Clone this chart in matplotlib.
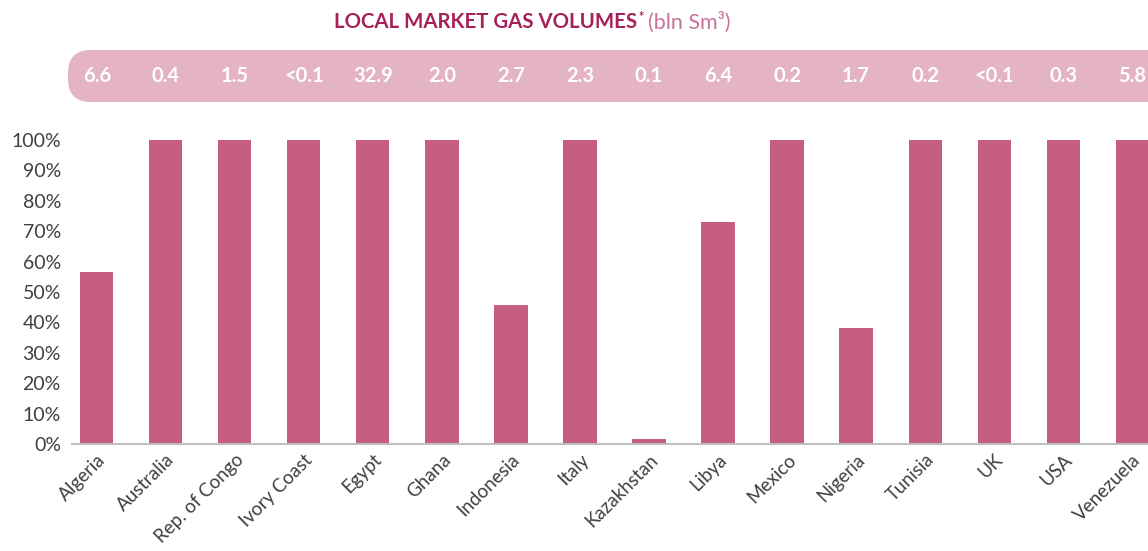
import matplotlib
matplotlib.use("Agg")
import matplotlib.pyplot as plt
from matplotlib.patches import FancyBboxPatch
from matplotlib.ticker import PercentFormatter
import matplotlib.transforms as mtransforms

countries = ["Algeria", "Australia", "Rep. of Congo", "Ivory Coast", "Egypt", "Ghana",
             "Indonesia", "Italy", "Kazakhstan", "Libya", "Mexico", "Nigeria",
             "Tunisia", "UK", "USA", "Venezuela"]
share = [0.566, 1.0, 1.0, 1.0, 1.0, 1.0, 0.457, 1.0, 0.016, 0.73, 1.0, 0.38,
         1.0, 1.0, 1.0, 1.0]
volumes = ["6.6", "0.4", "1.5", "<0.1", "32.9", "2.0", "2.7", "2.3", "0.1", "6.4",
           "0.2", "1.7", "0.2", "<0.1", "0.3", "5.8"]

bar_col = "#C55E80"
band_col = "#E4B3C4"
font = ["Lato", "DejaVu Sans"]
plt.rcParams["font.family"] = font

W, H = 1148, 551
fig = plt.figure(figsize=(W / 100, H / 100), dpi=100)
ax = fig.add_axes([72 / W, (H - 444) / H, (W - 72) / W, 304 / H])

x = list(range(len(countries)))
ax.bar(x, share, width=0.48, color=bar_col, zorder=2, clip_on=False)
ax.set_xlim(-0.36, 15.23)
ax.set_ylim(0, 1)
ax.yaxis.set_major_formatter(PercentFormatter(1.0, decimals=0))
ax.set_yticks([i / 10 for i in range(11)])
ax.set_xticks(x)
ax.set_xticklabels(countries, rotation=45, ha="right", rotation_mode="anchor")
for s in ["top", "right", "left"]:
    ax.spines[s].set_visible(False)
ax.spines["bottom"].set_color("#BFBFBF")
ax.spines["bottom"].set_linewidth(1.5)
ax.tick_params(axis="both", length=0, labelsize=14, colors="#404040")
ax.tick_params(axis="y", pad=8)
ax.tick_params(axis="x", labelsize=13.5, pad=5)

# pink band with volumes
band = FancyBboxPatch((68 / W, (H - 102) / H), (W + 40 - 68) / W, 52 / H,
                      boxstyle="round,pad=0,rounding_size=0.02",
                      mutation_aspect=W / H,
                      transform=fig.transFigure, facecolor=band_col,
                      edgecolor="none", clip_on=False, zorder=-1)
fig.patches.append(band)
trans = mtransforms.blended_transform_factory(ax.transData, fig.transFigure)
for xi, v in zip(x, volumes):
    t = fig.text(0, 0, v, transform=trans, ha="center", va="center",
                 color="white", fontsize=14.5, fontweight="bold", zorder=5)
    t.set_position((xi, (H - 76) / H))

# title
fig.text(637 / W, (H - 22) / H, "LOCAL MARKET GAS VOLUMES", ha="right", va="center",
         fontsize=14.7, fontweight="bold", color="#A6215A")
fig.text(638 / W, (H - 17) / H, "*", ha="left", va="center",
         fontsize=9, fontweight="bold", color="#A6215A")
fig.text(648 / W, (H - 22) / H, "(bln Sm³)", ha="left", va="center",
         fontsize=15.5, color="#C8739A")

fig.savefig("out.png", dpi=100)
